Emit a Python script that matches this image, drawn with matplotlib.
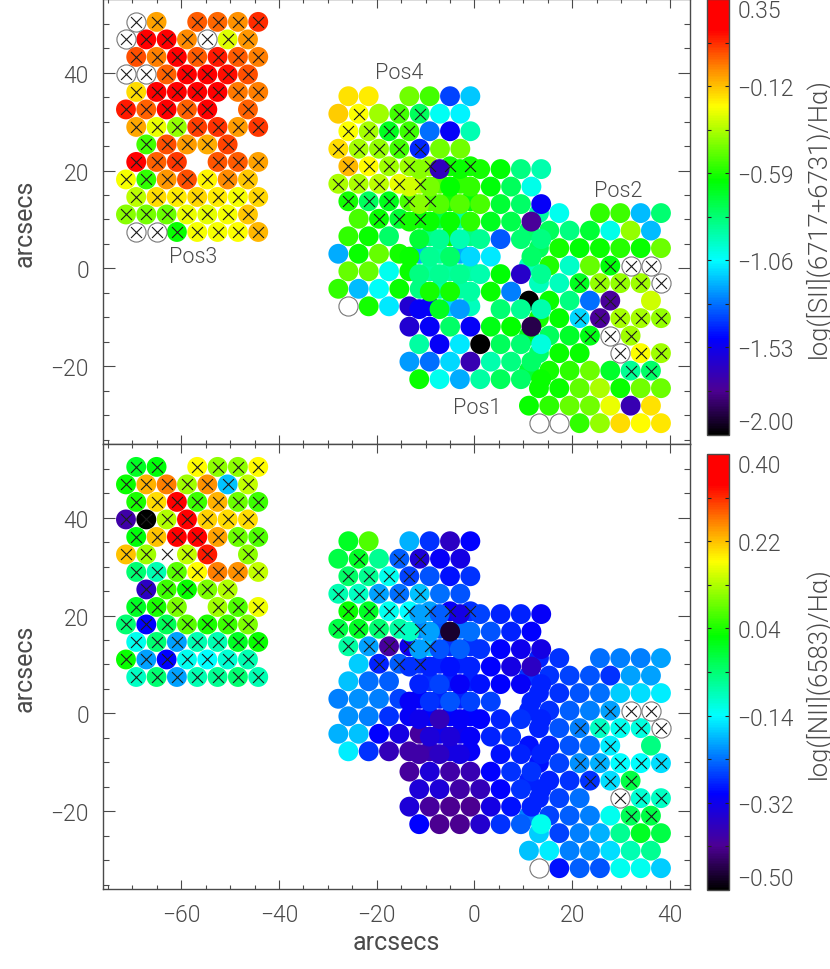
import numpy as np
import matplotlib
matplotlib.use("Agg")
import matplotlib.pyplot as plt
from matplotlib.colors import LinearSegmentedColormap, Normalize
from matplotlib.cm import ScalarMappable
from matplotlib.ticker import FixedLocator, NullFormatter

plt.rcParams['font.family'] = ['Roboto', 'Liberation Sans', 'DejaVu Sans']
plt.rcParams['font.weight'] = 300
N = float('nan')   # no fibre
O = None           # open circle (no measurement)

# --- fibre layout, arcsec: start of even row, start of odd row, first row y
dx, dy = 4.16, 3.58
layout = {'pos3': (-69.2, -71.3, 50.4),
          'pos4': (-25.8, -27.85, 35.2),
          'pos2': (13.2, 11.15, 11.3),
          'pos1': (-11.3, -13.3, 20.3)}

# --- crosses
pos3_cross = ['xx.xxxx', 'xxxxxxx', 'xxxxxxx', 'xxxxxxx', 'xxxxxxx', 'xxxxx.x', 'xxxxxxx',
              '.xxxxx.', 'xxx.xxx', 'xxxxxxx', 'xxxxxxx', 'xxxxxxx', 'xxxxxxx']
pos4_cross = ['.......', '.x.xx..', 'xxxx...', 'xxxxx..', 'xxxxxxx', 'xxxxx..', 'xxxxx..',
              '..xxx..', '.......', '.......', '.......', '.......', '.......']
pos2_cross = ['.......', '.......', '.......', '....xxx', '..xxxxx', '....x..', '..xxxxx',
              '...xxx.', '....xxx', '.....xx', '.......', '.......', '.......']
pos1_cross = ['.......'] * 13

# --- log([SII]/Ha)
pos3_sii = [[O, -.07, N, .04, .02, -.04, .12],
            [O, .21, .21, -.03, O, -.28, -.05],
            [.06, -.01, .21, .04, .14, .04, -.01],
            [O, O, .03, .21, .21, .16, .06],
            [-.17, .20, .21, .21, .19, .0, -.01],
            [.14, .03, .21, .03, .21, N, .03],
            [-.08, -.26, -.40, .09, .11, -.06, .10],
            [N, -.53, .06, -.06, -.09, .08, N],
            [.21, .03, .10, N, .05, .04, -.07],
            [-.24, -.55, -.05, .06, -.21, -.03, -.13],
            [-.33, -.17, -.20, -.16, -.20, -.24, -.16],
            [-.42, -.44, -.46, -.26, -.27, -.24, -.13],
            [O, O, -.62, -.24, -.24, -.23, -.10]]
pos4_sii = [[-.18, -.2, N, -.45, -.53, -1.37, -1.15],
            [-.14, -.23, -.38, -.53, -.78, -1.04, -1.08],
            [-.23, -.37, -.68, -.54, -1.3, -1.5, -.93],
            [-.17, -.37, -.40, -.53, -1.42, -.45, -.45],
            [-.10, -.22, -.38, -.38, -.40, -.60, -.60],
            [-.36, -.36, -.33, -.26, -.33, -.5, -.55],
            [-.60, -.78, -.67, -.52, -.5, -.6, -.65],
            [N, -.52, -.62, -.72, -.65, -.75, -.9],
            [-.55, -.62, -.80, N, -.85, -.62, -.85],
            [-1.2, -.62, -.47, -.6, -1.2, -.9, -1.2],
            [-.47, -.47, -1.03, -.62, -.9, -.9, -.9],
            [-.55, -1.17, -1.05, -.62, -.85, -.9, -.9],
            [O, -.6, -1.1, -1.6, -1.5, -1.12, -.95]]
pos2_sii = [[-.9, -1.03, N, -.55, -.54, -1.17, -.82],
            [-.8, -.78, -.85, -.72, -1.02, -.40, -1.17],
            [-.78, -.60, -.64, -.62, -.57, -.62, -.46],
            [-.95, -.58, -.97, -.47, -.65, O, O],
            [-.95, -.95, -.68, -.40, -.40, -.38, O],
            [-2.0, -.62, -.85, -1.30, -1.75, N, -.31],
            [-.60, -.63, -1.12, -1.75, -.37, -.37, -.40],
            [-.66, -.78, -.70, -.66, O, -.38, N],
            [-.80, -.62, -.62, N, O, -.23, -.38],
            [-.72, -.60, -.56, -.46, -.70, -.88, -.80],
            [-.62, -.62, -.48, -.36, -.62, -.45, -.46],
            [-.62, -.56, -.47, -.45, -.26, -1.68, -.18],
            [O, O, -.55, -.40, -.17, -.22, -.19]]
pos1_sii = [[-.42, -1.66, -.62, -.60, -.64, -.85, -.92],
            [-.30, -.44, -.63, -.55, -.65, -.78, -1.02],
            [-.42, -.50, -.50, -.52, -.72, -.80, -1.50],
            [-.60, -.62, -.62, -.56, -.68, -.76, -1.75],
            [-.72, -.88, -.93, -.88, -1.33, -.82, -.85],
            [-.62, -.88, -.80, -1.12, -1.10, N, -.80],
            [-.85, -.88, -.88, -.92, -.64, -1.62, -.88],
            [N, -.60, -.60, -.90, -.62, -1.27, N],
            [-1.50, -.68, -1.22, N, -.82, -.88, -.92],
            [-1.60, -1.50, -.80, -1.50, -.66, -.63, -1.88],
            [-.90, -1.50, -1.10, -2.00, -.78, -.82, -1.00],
            [-1.22, -1.30, -1.12, -1.68, -.92, -.85, -.80],
            [-.62, -1.03, -1.20, -.90, -.78, -.80, -.62]]

# --- log([NII]/Ha)
pos3_nii = [[.0, .02, N, .18, .11, .11, .18],
            [.03, .23, .26, .12, .25, -.18, .14],
            [.04, .20, .35, .06, .23, .09, .06],
            [-.39, -.50, .13, .35, .21, .20, .20],
            [.02, .22, .35, .35, .24, .09, .07],
            [.22, .12, N, .14, .32, N, .11],
            [-.05, -.09, .08, .18, .26, .25, .14],
            [N, -.36, .06, .03, .10, .13, N],
            [.0, .04, .10, N, .12, .07, .17],
            [-.05, -.30, -.03, .08, .04, .06, .10],
            [-.13, -.05, -.20, -.09, -.09, .0, .03],
            [.03, -.20, -.30, -.13, -.14, -.11, -.09],
            [-.10, -.05, -.20, -.09, -.07, -.05, -.09]]
pos4_nii = [[.0, .07, N, -.19, -.27, -.36, -.30],
            [-.02, .0, -.07, -.24, -.34, -.31, -.33],
            [-.04, -.07, -.13, -.26, -.25, -.29, -.27],
            [-.09, -.10, -.20, -.23, -.18, -.23, -.25],
            [.03, .0, -.13, -.14, -.20, -.31, -.27],
            [-.02, .0, -.05, -.08, -.22, -.25, -.23],
            [-.08, -.20, -.40, -.32, -.18, -.27, -.27],
            [N, -.17, -.28, -.24, -.27, -.28, -.28],
            [-.18, -.23, -.24, N, -.27, -.28, -.28],
            [-.22, -.21, -.22, -.26, -.30, -.28, -.28],
            [-.21, -.22, -.27, -.31, -.30, -.30, -.30],
            [-.19, -.18, -.30, -.33, -.40, -.32, -.32],
            [-.15, -.27, -.37, -.39, -.38, -.33, -.31]]
pos2_nii = [[-.28, -.27, N, -.23, -.22, -.22, -.20],
            [-.27, -.27, -.26, -.25, -.27, -.20, -.20],
            [-.28, -.27, -.25, -.23, -.17, -.16, -.15],
            [-.28, -.27, -.24, -.22, -.20, O, O],
            [-.28, -.25, -.22, -.10, -.13, -.12, O],
            [-.29, -.28, -.25, -.23, -.15, N, -.06],
            [-.29, -.26, -.21, -.19, -.14, -.14, -.16],
            [-.28, -.28, -.27, -.27, -.16, -.02, N],
            [-.28, -.26, -.23, N, O, -.11, -.10],
            [-.22, -.26, -.24, -.22, -.13, -.03, -.02],
            [-.17, -.26, -.22, -.19, -.07, .0, -.02],
            [-.18, -.15, -.22, -.21, -.16, -.09, -.07],
            [O, -.29, -.24, -.25, -.13, -.13, -.17]]
pos1_nii = [[-.20, -.24, -.33, -.26, -.28, -.28, -.31],
            [-.10, -.20, -.47, -.23, -.25, -.28, -.30],
            [-.20, -.25, -.24, -.27, -.30, -.32, -.33],
            [-.27, -.28, -.29, -.28, -.30, -.33, -.36],
            [-.28, -.26, -.31, -.29, -.30, -.31, -.28],
            [-.31, -.27, -.25, -.26, -.26, N, -.28],
            [-.32, -.37, -.31, -.30, -.28, -.27, -.28],
            [N, -.34, -.34, -.31, -.28, -.27, N],
            [-.39, -.36, -.33, N, -.29, -.28, -.28],
            [-.40, -.34, -.39, -.38, -.30, -.27, -.27],
            [-.34, -.34, -.39, -.37, -.30, -.27, -.28],
            [-.34, -.40, -.41, -.41, -.33, -.29, -.28],
            [-.30, -.41, -.41, -.35, -.27, -.24, -.13]]

sii_ticks = [-2.00, -1.53, -1.06, -0.59, -0.12, 0.35]
nii_ticks = [-0.50, -0.32, -0.14, 0.04, 0.22, 0.40]
pos_labels = [('Pos3', -57.5, 2.5), ('Pos4', -15.5, 40.0), ('Pos2', 29.5, 16.0), ('Pos1', 0.5, -28.5)]

cmap = LinearSegmentedColormap.from_list('idl', [
    (0.0, (0, 0, 0)), (0.10, (0.30, 0, 0.58)), (0.22, (0, 0, 1)), (0.40, (0, 1, 1)),
    (0.583, (0, 1, 0)), (0.755, (1, 1, 0)), (0.83, (1, 0.6, 0)), (0.93, (1, 0, 0)), (1.0, (1, 0, 0))], N=256)

GREY = '#4a4a4a'
FS = 16.5
LFS = 18.0
W, H = 830, 970


def fibres(name, values, cross):
    xe, xo, y0 = layout[name]
    xs, ys, cs, ox, oy, kx, ky = [], [], [], [], [], [], []
    for r, (row, flags) in enumerate(zip(values, cross)):
        for i, (v, f) in enumerate(zip(row, flags)):
            x = (xo if r % 2 else xe) + i * dx
            y = y0 - r * dy
            if v is None:
                ox.append(x); oy.append(y)
            elif not np.isnan(v):
                xs.append(x); ys.append(y); cs.append(v)
            if f == 'x':
                kx.append(x); ky.append(y)
    return xs, ys, cs, ox, oy, kx, ky


def panel(ax, data, norm):
    cross_x, cross_y = [], []
    for z, name in enumerate(['pos3', 'pos4', 'pos2', 'pos1']):
        xs, ys, cs, ox, oy, kx, ky = fibres(name, data[name], crosses[name])
        ax.scatter(xs, ys, c=cs, cmap=cmap, norm=norm, s=205, linewidths=0, zorder=2 + z)
        ax.scatter(ox, oy, s=190, facecolors='white', edgecolors='#777777', linewidths=0.8, zorder=2 + z)
        cross_x += kx; cross_y += ky
    ax.scatter(cross_x, cross_y, marker='x', s=62, c='#1c1c1c', linewidths=0.8, zorder=10)
    ax.set_xlim(-76, 44)
    ax.set_ylim(-36, 55)
    ax.xaxis.set_major_locator(FixedLocator(np.arange(-60, 41, 20)))
    ax.xaxis.set_minor_locator(FixedLocator(np.arange(-75, 44, 5)))
    ax.yaxis.set_major_locator(FixedLocator(np.arange(-20, 41, 20)))
    ax.yaxis.set_minor_locator(FixedLocator(np.arange(-35, 55, 5)))
    ax.tick_params(axis='x', which='major', direction='in', top=True, bottom=True, length=6.5, width=0.8,
                   color=GREY, labelcolor=GREY, labelsize=FS, pad=10)
    ax.tick_params(axis='x', which='minor', direction='in', top=True, bottom=True, length=3.2, width=0.8, color=GREY)
    ax.tick_params(axis='y', which='major', direction='in', left=True, right=True, length=8.5, width=0.8,
                   color=GREY, labelcolor=GREY, labelsize=FS, pad=10)
    ax.tick_params(axis='y', which='minor', direction='in', left=True, right=True, length=4, width=0.8, color=GREY)
    for s in ax.spines.values():
        s.set_color(GREY)
        s.set_linewidth(1.0)
    ax.set_ylabel('arcsecs', color=GREY, fontsize=LFS, labelpad=10)


def cbar(fig, box, norm, ticks, label):
    cax = fig.add_axes(box)
    cb = fig.colorbar(ScalarMappable(norm=norm, cmap=cmap), cax=cax)
    cb.outline.set_edgecolor(GREY)
    cb.outline.set_linewidth(1.0)
    cax.yaxis.set_major_locator(FixedLocator(ticks))
    step = (ticks[1] - ticks[0]) / 2
    cax.yaxis.set_minor_locator(FixedLocator([ticks[0] + step * k for k in range(1, 10, 2)]))
    cax.yaxis.set_minor_formatter(NullFormatter())
    cax.set_yticklabels([('%.2f' % t).replace('-', '\u2212') for t in ticks])
    cax.tick_params(which='both', direction='in', left=True, right=True, length=3, width=0.8, color='#222222',
                    labelcolor=GREY, labelsize=FS, pad=6)
    labels = cax.get_yticklabels()
    labels[0].set_va('bottom')
    labels[-1].set_va('top')
    mt = cax.yaxis.get_major_ticks()
    for t in (mt[0], mt[-1]):
        t.tick1line.set_visible(False)
        t.tick2line.set_visible(False)
    return cax


crosses = {'pos3': pos3_cross, 'pos4': pos4_cross, 'pos2': pos2_cross, 'pos1': pos1_cross}
sii = {'pos3': pos3_sii, 'pos4': pos4_sii, 'pos2': pos2_sii, 'pos1': pos1_sii}
nii = {'pos3': pos3_nii, 'pos4': pos4_nii, 'pos2': pos2_nii, 'pos1': pos1_nii}

fig = plt.figure(figsize=(W / 100, H / 100), dpi=100, facecolor='white')
ax1 = fig.add_axes([103 / W, (H - 445.4) / H, 586.5 / W, 445 / H])
ax2 = fig.add_axes([103 / W, (H - 890.4) / H, 586.5 / W, 445 / H])
norm1 = Normalize(sii_ticks[0], sii_ticks[-1])
norm2 = Normalize(nii_ticks[0], nii_ticks[-1])
panel(ax1, sii, norm1)
panel(ax2, nii, norm2)
ax1.set_xticklabels([])
ax2.set_xticklabels([('%d' % t).replace('-', '\u2212') for t in np.arange(-60, 41, 20)])
ax2.set_xlabel('arcsecs', color=GREY, fontsize=LFS, labelpad=3)
for txt, x, y in pos_labels:
    ax1.text(x, y, txt, color=GREY, fontsize=15.5, ha='center', va='center', zorder=11)

cbar(fig, [707 / W, (H - 435.5) / H, 22 / W, 435.5 / H], norm1, sii_ticks, '')
cbar(fig, [707 / W, (H - 891) / H, 22 / W, 436 / H], norm2, nii_ticks, '')
fig.text(818 / W, 1 - 218 / H, 'log([SII](6717+6731)/H\u03b1)', rotation=90, color=GREY, fontsize=LFS + 0.5,
         ha='center', va='center')
fig.text(818 / W, 1 - 673 / H, 'log([NII](6583)/H\u03b1)', rotation=90, color=GREY, fontsize=LFS + 0.5,
         ha='center', va='center')
fig.savefig('out.png', dpi=100)
